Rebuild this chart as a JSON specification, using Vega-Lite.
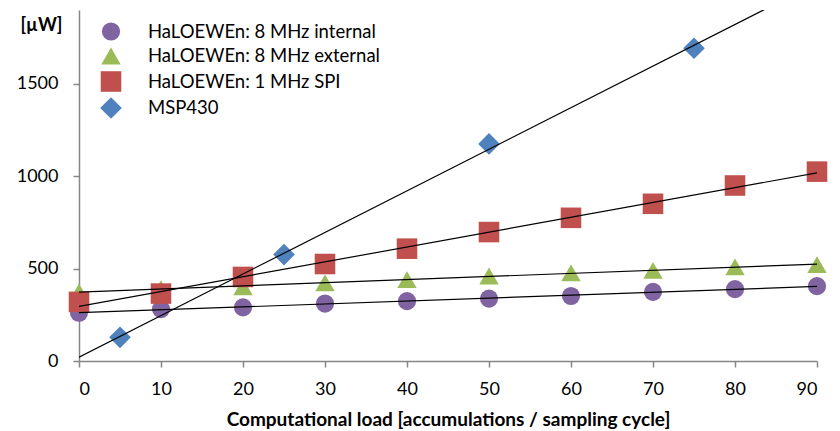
{
  "$schema": "https://vega.github.io/schema/vega-lite/v6.json",
  "width": 738,
  "height": 351,
  "autosize": {"type": "none"},
  "padding": {"left": 79, "top": 10, "right": 23, "bottom": 70},
  "background": "white",
  "data": {
    "values": [
      {"series": "HaLOEWEn: 8 MHz internal", "x": 0, "y": 261},
      {"series": "HaLOEWEn: 8 MHz internal", "x": 10, "y": 281},
      {"series": "HaLOEWEn: 8 MHz internal", "x": 20, "y": 290},
      {"series": "HaLOEWEn: 8 MHz internal", "x": 30, "y": 311},
      {"series": "HaLOEWEn: 8 MHz internal", "x": 40, "y": 324},
      {"series": "HaLOEWEn: 8 MHz internal", "x": 50, "y": 338},
      {"series": "HaLOEWEn: 8 MHz internal", "x": 60, "y": 352},
      {"series": "HaLOEWEn: 8 MHz internal", "x": 70, "y": 374},
      {"series": "HaLOEWEn: 8 MHz internal", "x": 80, "y": 389},
      {"series": "HaLOEWEn: 8 MHz internal", "x": 90, "y": 405},
      {"series": "HaLOEWEn: 8 MHz external", "x": 0, "y": 374},
      {"series": "HaLOEWEn: 8 MHz external", "x": 10, "y": 392},
      {"series": "HaLOEWEn: 8 MHz external", "x": 20, "y": 401},
      {"series": "HaLOEWEn: 8 MHz external", "x": 30, "y": 423},
      {"series": "HaLOEWEn: 8 MHz external", "x": 40, "y": 441},
      {"series": "HaLOEWEn: 8 MHz external", "x": 50, "y": 460},
      {"series": "HaLOEWEn: 8 MHz external", "x": 60, "y": 477},
      {"series": "HaLOEWEn: 8 MHz external", "x": 70, "y": 491},
      {"series": "HaLOEWEn: 8 MHz external", "x": 80, "y": 509},
      {"series": "HaLOEWEn: 8 MHz external", "x": 90, "y": 522},
      {"series": "HaLOEWEn: 1 MHz SPI", "x": 0, "y": 320},
      {"series": "HaLOEWEn: 1 MHz SPI", "x": 10, "y": 365},
      {"series": "HaLOEWEn: 1 MHz SPI", "x": 20, "y": 455},
      {"series": "HaLOEWEn: 1 MHz SPI", "x": 30, "y": 525},
      {"series": "HaLOEWEn: 1 MHz SPI", "x": 40, "y": 608},
      {"series": "HaLOEWEn: 1 MHz SPI", "x": 50, "y": 698},
      {"series": "HaLOEWEn: 1 MHz SPI", "x": 60, "y": 775},
      {"series": "HaLOEWEn: 1 MHz SPI", "x": 70, "y": 851},
      {"series": "HaLOEWEn: 1 MHz SPI", "x": 80, "y": 950},
      {"series": "HaLOEWEn: 1 MHz SPI", "x": 90, "y": 1025},
      {"series": "MSP430", "x": 5, "y": 128},
      {"series": "MSP430", "x": 25, "y": 576},
      {"series": "MSP430", "x": 50, "y": 1175},
      {"series": "MSP430", "x": 75, "y": 1693}
    ]
  },
  "layer": [
    {
      "mark": {"type": "point", "filled": true, "opacity": 1, "clip": false},
      "encoding": {
        "x": {
          "field": "x", "type": "quantitative",
          "scale": {"domain": [0, 90], "nice": false, "zero": false},
          "axis": {
            "values": [0, 10, 20, 30, 40, 50, 60, 70, 80, 90],
            "title": "Computational load [accumulations / sampling cycle]",
            "titleFontSize": 19, "titleFontWeight": "bold", "titlePadding": 12,
            "labelFontSize": 18, "labelPadding": 13
          }
        },
        "y": {
          "field": "y", "type": "quantitative",
          "scale": {"domain": [0, 1900], "nice": false},
          "axis": {
            "values": [0, 500, 1000, 1500],
            "format": "d",
            "title": "[µW]", "titleAngle": 0, "titleAlign": "right", "titleBaseline": "middle",
            "titleX": -17, "titleY": 15, "titleFontSize": 18, "titleFontWeight": "bold",
            "labelFontSize": 18, "labelPadding": 15
          }
        },
        "color": {
          "field": "series", "type": "nominal",
          "scale": {
            "domain": ["HaLOEWEn: 8 MHz internal", "HaLOEWEn: 8 MHz external", "HaLOEWEn: 1 MHz SPI", "MSP430"],
            "range": ["#8064A2", "#9BBB59", "#C0504D", "#4F81BD"]
          },
          "legend": {"title": null}
        },
        "shape": {
          "field": "series", "type": "nominal",
          "scale": {
            "domain": ["HaLOEWEn: 8 MHz internal", "HaLOEWEn: 8 MHz external", "HaLOEWEn: 1 MHz SPI", "MSP430"],
            "range": ["circle", "triangle-up", "square", "diamond"]
          },
          "legend": {"title": null}
        },
        "size": {
          "field": "series", "type": "nominal",
          "scale": {
            "domain": ["HaLOEWEn: 8 MHz internal", "HaLOEWEn: 8 MHz external", "HaLOEWEn: 1 MHz SPI", "MSP430"],
            "range": [330, 470, 400, 380]
          },
          "legend": null
        }
      }
    },
    {
      "transform": [
        {"regression": "y", "on": "x", "groupby": ["series"], "extent": [0, 90]}
      ],
      "mark": {"type": "line", "color": "black", "strokeWidth": 1.2, "clip": true},
      "encoding": {
        "x": {"field": "x", "type": "quantitative"},
        "y": {"field": "y", "type": "quantitative"},
        "detail": {"field": "series", "type": "nominal"}
      }
    }
  ],
  "config": {
    "font": "Lato",
    "view": {"stroke": null},
    "axis": {
      "grid": false,
      "domainColor": "#868686",
      "tickColor": "#868686",
      "tickSize": 6,
      "domainWidth": 1.5,
      "tickWidth": 1.5,
      "labelColor": "black",
      "titleColor": "black",
      "labelFont": "Lato",
      "titleFont": "Lato"
    },
    "legend": {
      "orient": "none",
      "legendX": 21,
      "legendY": 12,
      "labelFontSize": 18.5,
      "labelColor": "black",
      "labelFont": "Lato",
      "labelLimit": 0,
      "symbolSize": 150,
      "symbolStrokeWidth": 0,
      "rowPadding": 5,
      "labelOffset": 26,
      "symbolOpacity": 1
    }
  }
}
